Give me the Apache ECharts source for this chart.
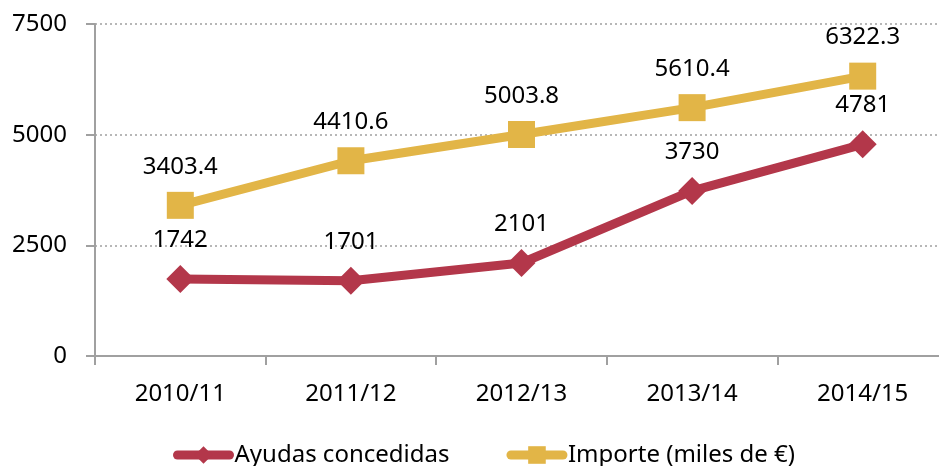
<!DOCTYPE html>
<html>
<head>
<meta charset="utf-8">
<script src="https://cdn.jsdelivr.net/npm/echarts@6/dist/echarts.min.js"></script>
<style>
html, body { margin: 0; padding: 0; background: #fff; }
#chart { width: 939px; height: 466px; }
</style>
</head>
<body>
<div id="chart"></div>
<script>
var years = ['2010/11', '2011/12', '2012/13', '2013/14', '2014/15'];
var ayudas = [1742, 1701, 2101, 3730, 4781];
var importe = [3403.4, 4410.6, 5003.8, 5610.4, 6322.3];

var chart = echarts.init(document.getElementById('chart'));
var font = '"Noto Sans", sans-serif';
var option = {
    animation: false,
    textStyle: { fontFamily: font },
    grid: { left: 95, top: 24, width: 853, height: 332, containLabel: false, outerBoundsMode: 'none' },
    legend: {
        top: 438,
        left: 168,
        itemGap: 57,
        itemWidth: 52,
        itemHeight: 22,
        lineStyle: { width: 9, cap: 'round' },
        textStyle: { fontSize: 24, color: '#000', fontFamily: font },
        data: ['Ayudas concedidas', 'Importe (miles de €)']
    },
    xAxis: {
        type: 'category',
        data: years,
        axisLine: { lineStyle: { color: '#a0a0a0', width: 2 } },
        axisTick: { show: true, length: 9, lineStyle: { color: '#a0a0a0', width: 2 } },
        axisLabel: { fontSize: 24, color: '#000', margin: 26, fontFamily: font }
    },
    yAxis: {
        type: 'value',
        min: 0,
        max: 7500,
        interval: 2500,
        axisLine: { show: true, lineStyle: { color: '#a0a0a0', width: 2 } },
        axisTick: { show: true, length: 9, lineStyle: { color: '#a0a0a0', width: 2 } },
        axisLabel: { fontSize: 24, color: '#000', margin: 28, fontFamily: font, formatter: function (v) { return String(v); } },
        splitLine: { lineStyle: { color: '#a0a0a0', type: [2, 3], width: 1.5 } }
    },
    series: [{
        name: 'Ayudas concedidas',
        type: 'line',
        data: ayudas,
        symbol: 'diamond',
        symbolSize: 28,
        color: '#b3374a',
        lineStyle: { width: 9, color: '#b3374a' },
        itemStyle: { color: '#b3374a' },
        label: { show: true, position: 'top', distance: 13, fontSize: 24, color: '#000', fontFamily: font }
    }, {
        name: 'Importe (miles de €)',
        type: 'line',
        data: importe,
        symbol: 'rect',
        symbolSize: 27,
        color: '#e2b547',
        lineStyle: { width: 9, color: '#e2b547' },
        itemStyle: { color: '#e2b547' },
        label: { show: true, position: 'top', distance: 13, fontSize: 24, color: '#000', fontFamily: font }
    }]
};
chart.setOption(option);
</script>
</body>
</html>
